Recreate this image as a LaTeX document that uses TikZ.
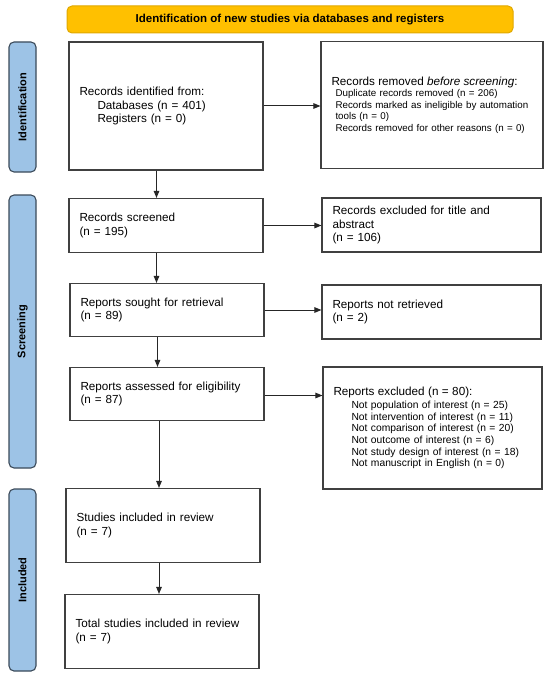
\documentclass[tikz,border=0pt]{standalone}
\usepackage{fontspec}
\setmainfont{Liberation Sans}
\usetikzlibrary{arrows.meta}
\definecolor{bannerfill}{HTML}{FFC000}
\definecolor{bannerline}{HTML}{E0A800}
\definecolor{sidefill}{HTML}{9DC3E6}
\definecolor{sideline}{HTML}{3B4A5A}
\definecolor{boxline}{HTML}{404040}
\newcommand{\mainsz}{\fontsize{11.7}{13.8}\selectfont}
\newcommand{\smallsz}{\fontsize{9.8}{11.4}\selectfont}
\newcommand{\listsz}{\fontsize{10.3}{11.6}\selectfont}
\begin{document}
\begin{tikzpicture}[x=1pt,y=-1pt,
  box/.style={draw=boxline, line width=1.1pt, fill=white, inner xsep=10.5pt, inner ysep=0pt, align=left, font=\mainsz},
  sidebox/.style={draw=sideline, fill=sidefill, line width=1.1pt, rounded corners=5pt, inner sep=0pt, rotate=90, font=\bfseries\fontsize{11}{13}\selectfont},
  arr/.style={draw=black!85, line width=1pt, -{Triangle[length=7pt,width=5.5pt]}},
]
\fill[white] (0,0) rectangle (550,679);
\path[use as bounding box] (0,0) rectangle (550,679);

% banner
\node[draw=bannerline, fill=bannerfill, line width=1pt, rounded corners=5pt, minimum width=446pt, minimum height=27pt, inner sep=0pt, font=\bfseries\fontsize{11.5}{13}\selectfont] (banner) at (290,19.5) {Identification of new studies via databases and registers};

% side bars
\node[sidebox, minimum width=130pt, minimum height=27pt] (sid) at (22.5,107) {Identification};
\node[sidebox, minimum width=273pt, minimum height=27pt] (sscr) at (22.5,331.5) {Screening};
\node[sidebox, minimum width=182pt, minimum height=27pt] (sinc) at (22.5,580) {Included};

% left column
\node[box, minimum width=194pt, minimum height=128pt, text width=173pt] (ident) at (166,106)
  {Records identified from:\\ \hspace*{18pt}Databases (n = 401)\\ \hspace*{18pt}Registers (n = 0)};
\node[box, minimum width=194pt, minimum height=54pt, text width=173pt] (screened) at (166,225.5)
  {Records screened\\ (n = 195)};
\node[box, minimum width=194pt, minimum height=53pt, text width=173pt] (sought) at (167,310)
  {Reports sought for retrieval\\ (n = 89)};
\node[box, minimum width=194pt, minimum height=53pt, text width=173pt] (assessed) at (167,394)
  {Reports assessed for eligibility\\ (n = 87)};
\node[box, minimum width=194pt, minimum height=74pt, text width=173pt] (studies) at (163,525.5)
  {Studies included in review\\ (n = 7)};
\node[box, minimum width=194pt, minimum height=74pt, text width=173pt] (total) at (162,631.5)
  {Total studies included in review\\ (n = 7)};

% right column
\node[box, minimum width=222pt, minimum height=127pt, text width=201pt, font=\smallsz] (removed) at (432,105)
  {{\mainsz Records removed \textit{before screening}:}\\
   \hspace*{4pt}Duplicate records removed (n = 206)\\
   \hspace*{4pt}Records marked as ineligible by automation\\
   \hspace*{4pt}tools (n = 0)\\
   \hspace*{4pt}Records removed for other reasons (n = 0)};
\node[box, minimum width=219pt, minimum height=54pt, text width=198pt] (excl) at (431.5,225)
  {Records excluded for title and\\ abstract\\ (n = 106)};
\node[box, minimum width=219pt, minimum height=54pt, text width=198pt] (notret) at (431.5,312)
  {Reports not retrieved\\ (n = 2)};
\node[box, minimum width=219pt, minimum height=122pt, text width=198pt, font=\listsz] (repexcl) at (432.5,428)
  {{\mainsz Reports excluded (n = 80):}\\[1.5pt]
   \hspace*{18pt}Not population of interest (n = 25)\\
   \hspace*{18pt}Not intervention of interest (n = 11)\\
   \hspace*{18pt}Not comparison of interest (n = 20)\\
   \hspace*{18pt}Not outcome of interest (n = 6)\\
   \hspace*{18pt}Not study design of interest (n = 18)\\
   \hspace*{18pt}Not manuscript in English (n = 0)};

% connectors
\coordinate (ax1) at (156.5,0);
\coordinate (ax2) at (157.5,0);
\coordinate (ax3) at (159,0);
\draw[arr] (ident.south -| ax1) -- (screened.north -| ax1);
\draw[arr] (screened.south -| ax1) -- (sought.north -| ax1);
\draw[arr] (sought.south -| ax2) -- (assessed.north -| ax2);
\draw[arr] (assessed.south -| ax3) -- (studies.north -| ax3);
\draw[arr] (studies.south -| ax3) -- (total.north -| ax3);

\draw[arr] (ident.east) -- (ident.east -| removed.west);
\draw[arr] (screened.east) -- (screened.east -| excl.west);
\draw[arr] (sought.east) -- (sought.east -| notret.west);
\draw[arr] ([yshift=-1.5pt]assessed.east) -- ([yshift=-1.5pt]assessed.east -| repexcl.west);
\end{tikzpicture}
\end{document}
